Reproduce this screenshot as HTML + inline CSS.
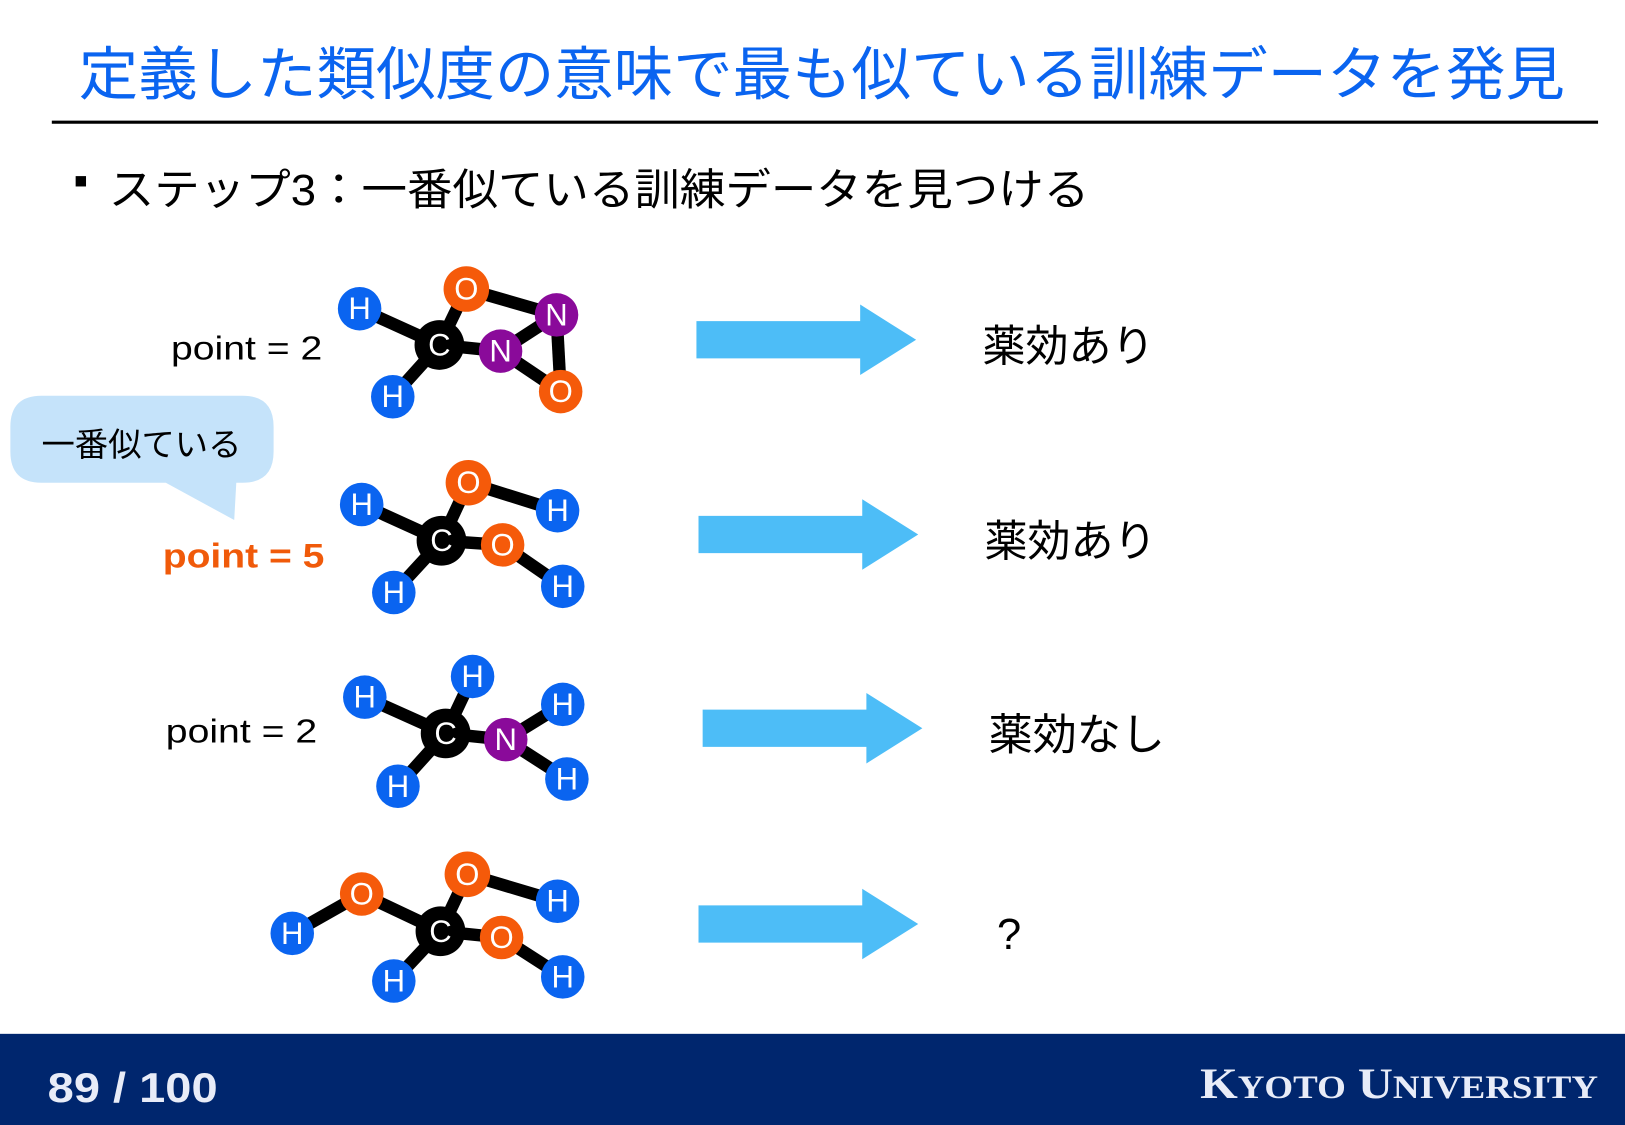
<!DOCTYPE html>
<html><head><meta charset="utf-8"><style>
html,body{margin:0;padding:0;background:#fff;}
svg{display:block;}
text{font-family:"Liberation Sans","Noto Sans CJK JP",sans-serif;}
text.serif{font-family:"Liberation Serif",serif;}
.at{font-family:"Liberation Sans",sans-serif;font-size:30px;fill:#fff;text-anchor:middle;dominant-baseline:central;}
.b{stroke:#000;stroke-width:12;stroke-linecap:round;}
</style></head><body>
<svg width="1625" height="1125" viewBox="0 0 1568 1086" preserveAspectRatio="none" xmlns="http://www.w3.org/2000/svg">
<text x="76" y="91" font-size="56" fill="#0a64f0" textLength="1434" lengthAdjust="spacingAndGlyphs">定義した類似度の意味で最も似ている訓練データを発見</text>
<line x1="50" y1="118" x2="1542" y2="118" stroke="#000" stroke-width="3"/>
<rect x="73" y="170" width="10" height="10" fill="#000"/>
<text x="105" y="198" font-size="42" fill="#000" textLength="946" lengthAdjust="spacingAndGlyphs">ステップ3：一番似ている訓練データを見つける</text>

<path d="M40,382 H234 Q264,382 264,412 V436 Q264,466 234,466 H228 L226,502 L160,466 H40 Q10,466 10,436 V412 Q10,382 40,382 Z" fill="#c5e3fa"/>
<text x="40" y="440" font-size="32" fill="#000" textLength="193" lengthAdjust="spacingAndGlyphs">一番似ている</text>

<text x="165" y="347" font-size="32" fill="#000" textLength="146" lengthAdjust="spacingAndGlyphs">point = 2</text>
<text x="157" y="548" font-size="33" font-weight="bold" fill="#f05a0a" textLength="156" lengthAdjust="spacingAndGlyphs">point = 5</text>
<text x="160" y="717" font-size="32" fill="#000" textLength="146" lengthAdjust="spacingAndGlyphs">point = 2</text>

<g fill="#4dbdf7">
<path d="M672,310 H830 V294 L884,328 L830,362 V346 H672 Z"/>
<path d="M674,498 H832 V482 L886,516 L832,550 V534 H674 Z"/>
<path d="M678,685 H836 V669 L890,703 L836,737 V721 H678 Z"/>
<path d="M674,874 H832 V858 L886,892 L832,926 V910 H674 Z"/>
</g>
<g font-size="42" fill="#000">
<text x="948" y="349" textLength="166" lengthAdjust="spacingAndGlyphs">薬効あり</text>
<text x="950" y="537" textLength="166" lengthAdjust="spacingAndGlyphs">薬効あり</text>
<text x="954" y="724" textLength="170" lengthAdjust="spacingAndGlyphs">薬効なし</text>
<text x="962" y="916">?</text>
</g>

<g class="b">
<line x1="347" y1="298" x2="424" y2="333"/><line x1="424" y1="333" x2="450" y2="279"/>
<line x1="450" y1="279" x2="537" y2="304"/><line x1="537" y1="304" x2="483" y2="339"/>
<line x1="424" y1="333" x2="483" y2="339"/><line x1="483" y1="339" x2="541" y2="378"/>
<line x1="537" y1="304" x2="541" y2="378"/><line x1="424" y1="333" x2="379" y2="383"/>
</g>
<circle cx="347" cy="298" r="21" fill="#0a64f0"/><text class="at" x="347" y="298">H</text>
<circle cx="424" cy="333" r="24" fill="#000"/><text class="at" x="424" y="333">C</text>
<circle cx="450" cy="279" r="22" fill="#f55a0a"/><text class="at" x="450" y="279">O</text>
<circle cx="537" cy="304" r="21" fill="#8a0a9a"/><text class="at" x="537" y="304">N</text>
<circle cx="483" cy="339" r="21" fill="#8a0a9a"/><text class="at" x="483" y="339">N</text>
<circle cx="541" cy="378" r="21" fill="#f55a0a"/><text class="at" x="541" y="378">O</text>
<circle cx="379" cy="383" r="21" fill="#0a64f0"/><text class="at" x="379" y="383">H</text>

<g class="b">
<line x1="349" y1="487" x2="426" y2="522"/><line x1="426" y1="522" x2="452" y2="466"/>
<line x1="452" y1="466" x2="538" y2="493"/><line x1="426" y1="522" x2="485" y2="526"/>
<line x1="485" y1="526" x2="543" y2="566"/><line x1="426" y1="522" x2="380" y2="572"/>
</g>
<circle cx="349" cy="487" r="21" fill="#0a64f0"/><text class="at" x="349" y="487">H</text>
<circle cx="426" cy="522" r="24" fill="#000"/><text class="at" x="426" y="522">C</text>
<circle cx="452" cy="466" r="22" fill="#f55a0a"/><text class="at" x="452" y="466">O</text>
<circle cx="538" cy="493" r="21" fill="#0a64f0"/><text class="at" x="538" y="493">H</text>
<circle cx="485" cy="526" r="21" fill="#f55a0a"/><text class="at" x="485" y="526">O</text>
<circle cx="543" cy="566" r="21" fill="#0a64f0"/><text class="at" x="543" y="566">H</text>
<circle cx="380" cy="572" r="21" fill="#0a64f0"/><text class="at" x="380" y="572">H</text>

<g class="b">
<line x1="352" y1="673" x2="430" y2="708"/><line x1="430" y1="708" x2="456" y2="653"/>
<line x1="430" y1="708" x2="488" y2="714"/><line x1="488" y1="714" x2="543" y2="680"/>
<line x1="488" y1="714" x2="547" y2="752"/><line x1="430" y1="708" x2="384" y2="759"/>
</g>
<circle cx="352" cy="673" r="21" fill="#0a64f0"/><text class="at" x="352" y="673">H</text>
<circle cx="456" cy="653" r="21" fill="#0a64f0"/><text class="at" x="456" y="653">H</text>
<circle cx="430" cy="708" r="24" fill="#000"/><text class="at" x="430" y="708">C</text>
<circle cx="488" cy="714" r="21" fill="#8a0a9a"/><text class="at" x="488" y="714">N</text>
<circle cx="543" cy="680" r="21" fill="#0a64f0"/><text class="at" x="543" y="680">H</text>
<circle cx="547" cy="752" r="21" fill="#0a64f0"/><text class="at" x="547" y="752">H</text>
<circle cx="384" cy="759" r="21" fill="#0a64f0"/><text class="at" x="384" y="759">H</text>

<g class="b">
<line x1="282" y1="901" x2="349" y2="863"/><line x1="349" y1="863" x2="425" y2="899"/>
<line x1="425" y1="899" x2="451" y2="844"/><line x1="451" y1="844" x2="538" y2="870"/>
<line x1="425" y1="899" x2="484" y2="905"/><line x1="484" y1="905" x2="543" y2="943"/>
<line x1="425" y1="899" x2="380" y2="947"/>
</g>
<circle cx="282" cy="901" r="21" fill="#0a64f0"/><text class="at" x="282" y="901">H</text>
<circle cx="349" cy="863" r="21" fill="#f55a0a"/><text class="at" x="349" y="863">O</text>
<circle cx="425" cy="899" r="24" fill="#000"/><text class="at" x="425" y="899">C</text>
<circle cx="451" cy="844" r="22" fill="#f55a0a"/><text class="at" x="451" y="844">O</text>
<circle cx="538" cy="870" r="21" fill="#0a64f0"/><text class="at" x="538" y="870">H</text>
<circle cx="484" cy="905" r="21" fill="#f55a0a"/><text class="at" x="484" y="905">O</text>
<circle cx="543" cy="943" r="21" fill="#0a64f0"/><text class="at" x="543" y="943">H</text>
<circle cx="380" cy="947" r="21" fill="#0a64f0"/><text class="at" x="380" y="947">H</text>

<rect x="0" y="998" width="1568" height="88" fill="#00266e"/>
<text x="46" y="1064" font-size="40" font-weight="bold" fill="#e8ecf8" textLength="164" lengthAdjust="spacingAndGlyphs">89 / 100</text>
<text class="serif" x="1158" y="1060" font-weight="bold" fill="#e8ecf8" font-size="42" textLength="384" lengthAdjust="spacingAndGlyphs">K<tspan font-size="32">YOTO</tspan> U<tspan font-size="32">NIVERSITY</tspan></text>
</svg>
</body></html>
